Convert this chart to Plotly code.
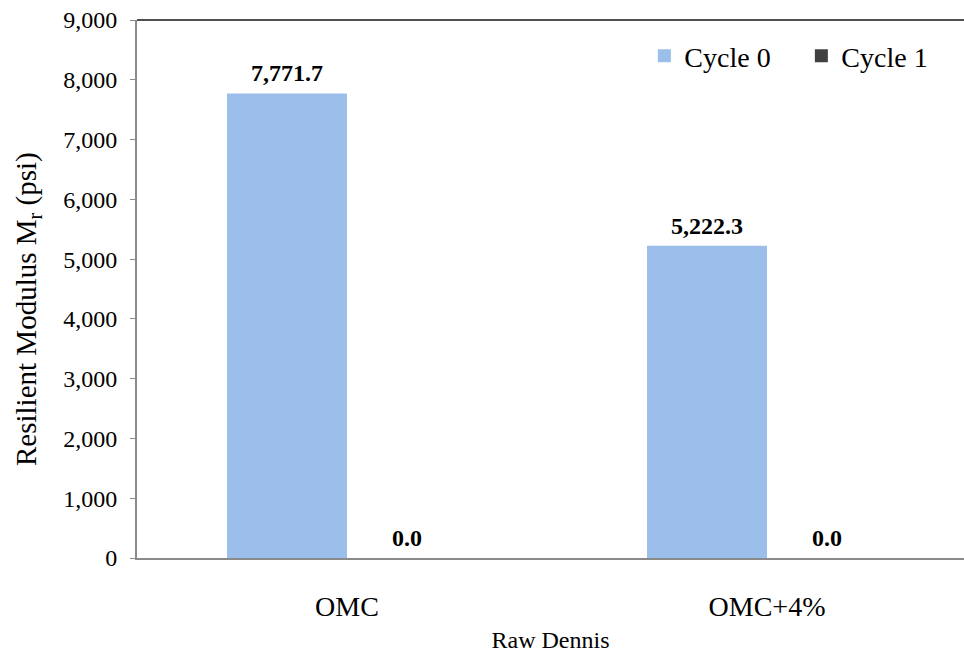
import plotly.graph_objects as go

categories = ["OMC", "OMC+4%"]
cycle0 = [7771.7, 5222.3]
cycle1 = [0.0, 0.0]
series_names = ["Cycle 0", "Cycle 1"]
colors = ["#9BBEEA", "#404040"]
y_title = "Resilient Modulus M<sub>r</sub> (psi)"
x_title = "Raw Dennis"

FONT = "Liberation Serif"
BARGAP = 0.4286

fig = go.Figure()
series = [cycle0, cycle1]
for name, vals, col in zip(series_names, series, colors):
    fig.add_trace(go.Bar(
        x=categories, y=vals, name=name, marker_color=col,
        marker_line_width=0, showlegend=False,
    ))
    # legend-only entries with larger square swatches
    fig.add_trace(go.Scatter(
        x=[None], y=[None], mode="markers", name=name,
        marker=dict(symbol="square", size=13, color=col),
        showlegend=True, hoverinfo="skip",
    ))

# value labels, computed from data and bar grouping
half = (1 - BARGAP) / 4.0
annotations = []
for s_idx, vals in enumerate(series):
    off = -half if s_idx == 0 else half
    for c_idx, v in enumerate(vals):
        annotations.append(dict(
            x=c_idx + off, y=v, xref="x", yref="y",
            text="<b>{:,.1f}</b>".format(v), showarrow=False,
            yanchor="bottom", yshift=5,
            font=dict(family=FONT, size=24, color="black"),
        ))

# y-axis title as rotated annotation
annotations.append(dict(
    x=0, y=0.5, xref="paper", yref="paper", xshift=-109, yshift=-20,
    text=y_title, textangle=-90, showarrow=False,
    xanchor="center", yanchor="middle",
    font=dict(family=FONT, size=29, color="black"),
))

W, H = 964, 654
L, R, T, B = 137, 0, 20, 96
plot_w = W - L - R
cat_w = 420.0
fig.update_layout(
    width=W, height=H,
    margin=dict(l=L, r=R, t=T, b=B, autoexpand=False),
    plot_bgcolor="white", paper_bgcolor="white",
    barmode="group", bargap=BARGAP, bargroupgap=0,
    font=dict(family=FONT, color="black"),
    showlegend=True,
    legend=dict(orientation="h", x=0.6135, y=0.933, xanchor="left", yanchor="middle",
                font=dict(family=FONT, size=28), bgcolor="rgba(0,0,0,0)",
                itemwidth=30, traceorder="normal", itemsizing="trace",
                entrywidth=112, entrywidthmode="pixels"),
    xaxis=dict(
        type="category",
        range=[-0.5, -0.5 + plot_w / cat_w],
        showline=True, linecolor="#8a8a8a", linewidth=2,
        ticks="", showgrid=False,
        tickfont=dict(family=FONT, size=28),
        ticklabelstandoff=22,
        title=dict(text=x_title, font=dict(family=FONT, size=24), standoff=11),
    ),
    yaxis=dict(
        range=[0, 9000], dtick=1000, tickformat=",",
        showline=True, linecolor="#8a8a8a", linewidth=2,
        ticks="outside", ticklen=5, tickcolor="#8a8a8a", tickwidth=1,
        ticklabelstandoff=8,
        showgrid=False, zeroline=False,
        tickfont=dict(family=FONT, size=24),
    ),
    annotations=annotations,
    shapes=[dict(type="line", xref="paper", yref="paper", x0=0, x1=1, y0=1, y1=1,
                 line=dict(color="#505050", width=2))],
)

fig.write_html("out.html", config={"displayModeBar": False},
               post_script="document.body.style.margin='0px';")
